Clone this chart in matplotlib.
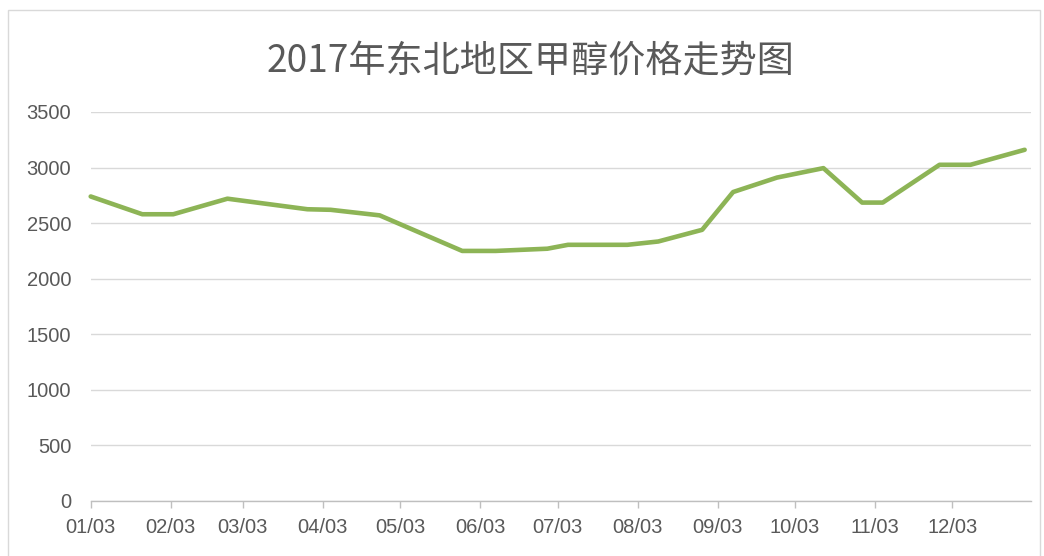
import matplotlib
matplotlib.use("Agg")
import matplotlib.pyplot as plt
import matplotlib.dates as mdates
from matplotlib.patches import Rectangle
import datetime as dt

title = "2017年东北地区甲醇价格走势图"

dates = ["2017-01-03", "2017-01-23", "2017-02-04", "2017-02-25", "2017-03-28",
         "2017-04-06", "2017-04-25", "2017-05-27", "2017-06-09", "2017-06-29",
         "2017-07-07", "2017-07-30", "2017-08-11", "2017-08-28", "2017-09-09",
         "2017-09-26", "2017-10-14", "2017-10-29", "2017-11-06", "2017-11-28",
         "2017-12-10", "2017-12-31"]
prices = [2740, 2580, 2580, 2720, 2625, 2620, 2570, 2250, 2250, 2270,
          2305, 2305, 2335, 2440, 2780, 2910, 2995, 2685, 2685, 3025,
          3025, 3160]
tick_dates = ["2017-%02d-03" % m for m in range(1, 13)]
y_ticks = [0, 500, 1000, 1500, 2000, 2500, 3000, 3500]

x = [dt.datetime.strptime(d, "%Y-%m-%d") for d in dates]
xt = [dt.datetime.strptime(d, "%Y-%m-%d") for d in tick_dates]

plt.rcParams['font.family'] = ['Liberation Sans', 'Noto Sans CJK SC', 'DejaVu Sans']

W, H = 1044, 556
fig = plt.figure(figsize=(W / 100, H / 100), dpi=100)
fig.patches.append(Rectangle((8 / W, -0.01), (1040 - 8) / W, 1 - 10 / H + 0.01,
                             transform=fig.transFigure, fill=False,
                             edgecolor="#D9D9D9", linewidth=1))

left, right = 90.7 / W, 1031 / W
bottom, top = 1 - 501 / H, 1 - 112 / H
ax = fig.add_axes([left, bottom, right - left, top - bottom])

ax.plot(x, prices, color="#8DB456", linewidth=3.3, solid_joinstyle="round",
        solid_capstyle="round", clip_on=False, zorder=3)

span_days = (1031 - 90.7) / 2.58
ax.set_xlim(x[0], x[0] + dt.timedelta(days=span_days))
ax.set_ylim(0, 3500)
ax.set_yticks(y_ticks)
ax.set_xticks(xt)
ax.xaxis.set_major_formatter(mdates.DateFormatter("%m/%d"))

ax.grid(axis="y", color="#D9D9D9", linewidth=1)
ax.set_axisbelow(True)
for s in ["top", "right", "left"]:
    ax.spines[s].set_visible(False)
ax.spines["bottom"].set_color("#BFBFBF")
ax.spines["bottom"].set_linewidth(1)

ax.tick_params(axis="y", length=0, pad=14, labelsize=14.5, labelcolor="#595959")
ax.tick_params(axis="x", length=5, width=1, color="#BFBFBF", pad=7,
               labelsize=14.5, labelcolor="#595959")

fig.text(530 / W, 1 - 62 / H, title, ha="center", va="center", fontsize=26.7,
         color="#595959", family=['Noto Sans CJK SC', 'DejaVu Sans'])

fig.savefig("out.png", dpi=100)
